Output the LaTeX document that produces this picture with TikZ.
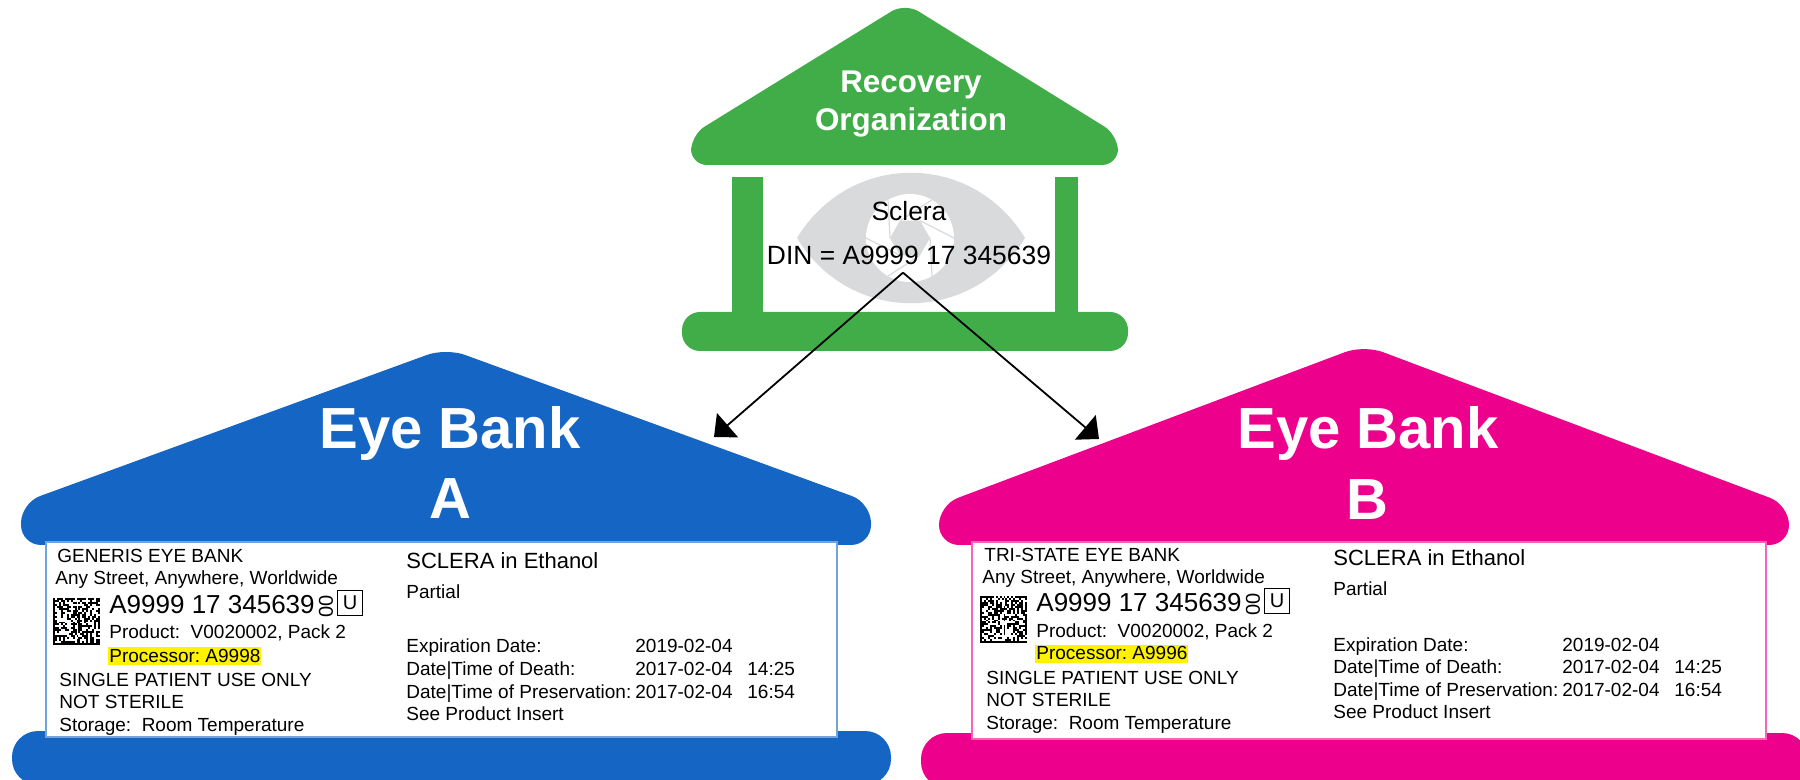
\documentclass[tikz,border=0pt]{standalone}
\usepackage{fontspec}
\setmainfont{Liberation Sans}
\usetikzlibrary{arrows.meta}
\AtBeginDocument{\frenchspacing}

\definecolor{recgreen}{HTML}{41AD49}
\definecolor{bankblue}{HTML}{1565C4}
\definecolor{bankpink}{HTML}{EC008C}
\definecolor{eyegray}{HTML}{D9DADB}
\definecolor{markyellow}{HTML}{FFF200}

% barcode square: x, y of the top left corner, seed
\newcommand{\matrixcode}[3]{%
    \pgfmathsetseed{#3}%
    \foreach \i in {0,...,23}{%
        \foreach \j in {0,...,23}{%
            \pgfmathrandominteger{\bit}{0}{9}%
            \pgfmathtruncatemacro{\dark}{(\i==0 || \j==23 || (\j==0 && mod(\i,2)==0) || (\i==23 && mod(\j,2)==1) || \bit<5) ? 1 : 0}%
            \ifnum\dark=1
                \fill ({#1+\i*1.96},{#2+\j*1.96}) rectangle +(1.96,1.96);
            \fi
        }
    }%
}

% printed label of one bank: name prefix, shift, bank name, processor, seed
\newcommand{\labeltext}[6]{%
    \begin{scope}[shift={(#2,#3)}]
        \node[smalltxt] (#1name) at (57,563) {#4};
        \node[smalltxt] (#1addr) at (55,585) {Any Street, Anywhere, Worldwide};
        \matrixcode{53}{598}{#6}
        \node[dintxt] (#1din) at (109,613) {A9999 17 345639};
        \node[smalltxt, rotate=90, anchor=center, font=\fontsize{10pt}{12pt}\selectfont] (#1flag) at (326,606) {00};
        \node[ubox] (#1u) at (350,603) {U};
        \node[smalltxt] (#1prod) at (109,639) {Product:\ \ V0020002, Pack 2};
        \node[smalltxt, fill=markyellow, text height=7.5pt, text depth=1.5pt, inner xsep=0.5pt] (#1proc) at (108,662) {#5};
        \node[smalltxt] (#1use) at (59,686) {SINGLE PATIENT USE ONLY};
        \node[smalltxt] (#1ster) at (59,708) {NOT STERILE};
        \node[smalltxt] (#1stor) at (59,731) {Storage:\ \ Room Temperature};
        \node[smalltxt, font=\fontsize{11pt}{13pt}\selectfont] (#1tis) at (406,568) {SCLERA in Ethanol};
        \node[smalltxt] (#1part) at (406,598) {Partial};
        \node[smalltxt] (#1exp) at (406,653) {Expiration Date:};
        \node[smalltxt] (#1dod) at (406,675) {Date|Time of Death:};
        \node[smalltxt] (#1dop) at (406,698) {Date|Time of Preservation:};
        \node[smalltxt] (#1see) at (406,720) {See Product Insert};
        \node[smalltxt] (#1expd) at (635,653) {2019-02-04};
        \node[smalltxt] (#1dodd) at (635,675) {2017-02-04};
        \node[smalltxt] (#1dopd) at (635,698) {2017-02-04};
        \node[smalltxt] (#1dodt) at (747,675) {14:25};
        \node[smalltxt] (#1dopt) at (747,698) {16:54};
    \end{scope}%
}

\begin{document}
\begin{tikzpicture}[x=0.5pt, y=-0.5pt,
    smalltxt/.style={anchor=base west, inner sep=0pt,
        font=\fontsize{9.5pt}{11pt}\selectfont},
    dintxt/.style={smalltxt, font=\fontsize{13pt}{15pt}\selectfont},
    ubox/.style={draw, line width=0.6pt, inner sep=0pt, minimum size=12.5pt,
        font=\fontsize{10pt}{12pt}\selectfont},
    roofhead/.style={text=white, inner sep=0pt, anchor=base,
        font=\fontsize{29pt}{33pt}\bfseries\selectfont},
    rectxt/.style={roofhead, font=\fontsize{15.7pt}{18pt}\bfseries\selectfont},
    eyetxt/.style={anchor=base, inner ysep=3.5pt, inner xsep=0pt,
        font=\fontsize{13.2pt}{15pt}\selectfont},
    paperbox/.style={fill=white, line width=0.8pt},
    tip/.style={-{Triangle[length=9pt, width=16pt]}, line width=0.9pt},
    ]
    \clip (0,0) rectangle (1800,780);

    % recovery organization
    \fill[recgreen, rounded corners=8pt] (905,3) -- (691,135) -- (691,165) -- (1118,165) -- (1118,135) -- cycle;
    \fill[recgreen] (732,177) rectangle (763,320);
    \fill[recgreen] (1055,177) rectangle (1078,320);
    \fill[recgreen, rounded corners=9pt] (682,312) rectangle (1128,351);
    \node[rectxt] (recov) at (911,93) {Recovery};
    \node[rectxt] (organ) at (911,131) {Organization};

    % eye
    \fill[eyegray] (797,238) .. controls (850,151) and (972,151) .. (1025,238)
        .. controls (972,325) and (850,325) .. (797,238);
    \fill[white] (910,238) circle (44);
    \begin{scope}[shift={(910,238)}]
        \fill[eyegray] (0:20) -- (60:20) -- (120:20) -- (180:20) -- (240:20) -- (300:20) -- cycle;
        \foreach \a in {0,60,...,300}
            \draw[eyegray, line width=0.6pt] (\a:20) -- (\a+60:44);
    \end{scope}
    \node[eyetxt] (sclera) at (909,221) {Sclera};
    \node[eyetxt] (din) at (909,265) {DIN = A9999 17 345639};

    % eye bank A
    \fill[bankblue, rounded corners=10pt] (446,348) -- (21,503) -- (21,545) -- (871,545) -- (871,503) -- cycle;
    \fill[bankblue, rounded corners=13pt] (12,731) rectangle (891,785);
    \filldraw[paperbox, draw=bankblue!60] (46,542) rectangle (837,737);
    \node[roofhead] (bankA) at (450,449) {Eye Bank};
    \node[roofhead] (letterA) at (450,519) {A};
    \labeltext{a}{0}{0}{GENERIS EYE BANK}{Processor: A9998}{12}

    % eye bank B
    \fill[bankpink, rounded corners=10pt] (1364,345) -- (939,505) -- (939,545) -- (1789,545) -- (1789,505) -- cycle;
    \fill[bankpink, rounded corners=13pt] (921,733) rectangle (1808,788);
    \filldraw[paperbox, draw=bankpink!60] (972,542) rectangle (1766,739);
    \node[roofhead] (bankB) at (1368,449) {Eye Bank};
    \node[roofhead] (letterB) at (1367,520) {B};
    \labeltext{b}{927}{-2}{TRI-STATE EYE BANK}{Processor: A9996}{47}

    % arrows
    \coordinate (toA) at (714,437);
    \coordinate (toB) at (1099,439);
    \draw[tip] ([xshift=-3pt]din.south) -- (toA);
    \draw[tip] ([xshift=-3pt]din.south) -- (toB);
\end{tikzpicture}
\end{document}
